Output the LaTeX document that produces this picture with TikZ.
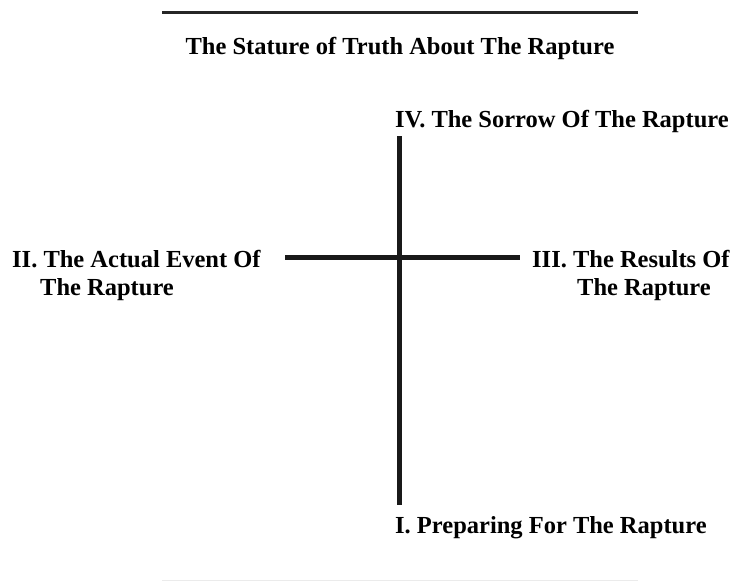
\documentclass[tikz,border=0pt]{standalone}
\usepackage{fontspec}
\setmainfont{Liberation Serif}
\tikzset{
  lbl/.style={inner sep=0pt, anchor=base west, align=left,
    font=\fontsize{24.5pt}{28pt}\selectfont\bfseries},
  bar/.style={line width=5pt, color=black!90},
}
\begin{document}
\begin{tikzpicture}[x=1pt, y=-1pt]
\useasboundingbox (0,0) rectangle (736,582);
% rules above and below
\coordinate (rulea) at (162,12.5);
\coordinate (ruleb) at (638,12.5);
\coordinate (rulec) at (162,580.5);
\coordinate (ruled) at (638,580.5);
\draw[line width=2.7pt, black!85] (rulea)--(ruleb);
\draw[line width=1pt, black!8] (rulec)--(ruled);
\node[lbl, anchor=base] (title) at (400,54) {The Stature of Truth About The Rapture};
% the cross
\coordinate (top) at (399,136);
\coordinate (bottom) at (399,505);
\coordinate (left) at (285,257);
\coordinate (right) at (520,257);
\draw[bar] (top)--(bottom);
\draw[bar] (left)--(right);
\node[lbl] (four) at (395,127) {IV. The Sorrow Of The Rapture};
% base of a two line node sits on its last line
\node[lbl] (two) at (12,295) {II. The Actual Event Of\\\hspace{28pt}The Rapture};
\node[lbl] (three) at (532,295) {III. The Results Of\\\hspace{45pt}The Rapture};
\node[lbl] (one) at (395,533) {I. Preparing For The Rapture};
\end{tikzpicture}
\end{document}
